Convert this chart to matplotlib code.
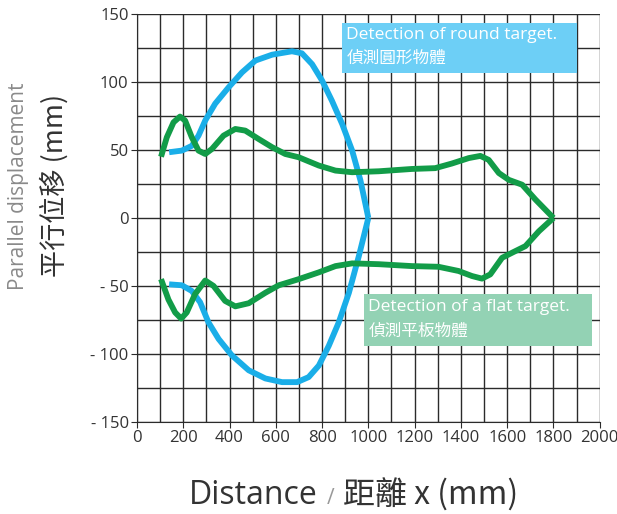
import matplotlib.pyplot as plt
from matplotlib.patches import Rectangle

plt.rcParams['font.family'] = ['Open Sans', 'Noto Sans CJK TC', 'DejaVu Sans']

# round target (blue), upper and lower halves
round_x_up = [139, 194, 237, 266, 295, 338, 396, 454, 512, 584, 670, 713, 757, 800,
              843, 887, 930, 966, 1000]
round_y_up = [48.3, 49.5, 53, 60.5, 71.6, 84, 96, 107, 115.7, 120, 122.5, 121, 113, 101,
              86, 69, 49.5, 27.5, 0]
round_x_lo = [1000, 959, 916, 872, 829, 786, 742, 692, 627, 555, 483, 410, 353, 309,
              273, 237, 194, 139]
round_y_lo = [0, -28, -55, -76.8, -94, -108.5, -117, -120.7, -120.7, -118, -112, -101, -89,
              -76.8, -62, -53.7, -49.5, -48.8]

# flat target (green), upper and lower halves
flat_x_up = [104, 129, 158, 186, 208, 237, 266, 295, 324, 374, 425, 468, 526, 584, 641,
             699, 786, 858, 930, 1045, 1188, 1289, 1361, 1434, 1484, 1520, 1564, 1607,
             1665, 1723, 1800]
flat_y_up = [45, 59.3, 70.3, 74.5, 71.6, 59.3, 49.5, 47, 50.7, 60.5, 65.4, 64.2, 58, 52, 47,
             44.6, 38.5, 34.8, 33.6, 34.3, 36, 36.6, 40, 44, 45.6, 42.7, 33, 28,
             24.4, 13.4, 0]
flat_x_lo = [104, 136, 165, 191, 215, 251, 295, 331, 381, 425, 483, 555, 613, 699, 786,
             858, 930, 1045, 1188, 1303, 1390, 1448, 1491, 1527, 1578, 1621, 1679, 1737,
             1800]
flat_y_lo = [-45, -60, -69.5, -74, -69.5, -56, -46, -50, -61, -65, -62.7, -55, -49.5, -45, -40,
             -35.4, -33.4, -34, -35.4, -35.9, -39, -42.7, -44.6, -41.5, -29.3, -25.6, -20.7, -9.8,
             0]

xticks = list(range(0, 2001, 200))
yticks = [-150, -100, -50, 0, 50, 100, 150]
ytick_labels = ['- 150', '- 100', '- 50', '0', '50', '100', '150']

blue = '#1aaee8'
green = '#129c48'

fig = plt.figure(figsize=(6.17, 5.14), dpi=100)
ax = fig.add_axes([0.222, 0.179, 0.750, 0.794])

ax.set_xlim(0, 2000)
ax.set_ylim(-150, 150)
for x in range(0, 2001, 100):
    ax.axvline(x, color='#2b2b2b', lw=1.0, zorder=1)
for y in range(-150, 151, 25):
    ax.axhline(y, color='#2b2b2b', lw=1.0, zorder=1)

for s in ['top', 'right']:
    ax.spines[s].set_visible(False)
ax.spines['left'].set_color('#2b2b2b')
ax.spines['bottom'].set_color('#2b2b2b')

ax.set_xticks(xticks)
ax.set_yticks(yticks)
ax.set_yticklabels(ytick_labels)
ax.tick_params(direction='out', length=4, color='#2b2b2b', labelcolor='#333333', pad=2)
for lab in ax.get_xticklabels() + ax.get_yticklabels():
    lab.set_fontfamily(['Liberation Sans Narrow', 'Open Sans'])
    lab.set_fontsize(12)

lw = 4.2
style = dict(lw=lw, solid_capstyle='butt', solid_joinstyle='round')
ax.plot(round_x_up, round_y_up, color=blue, zorder=3, **style)
ax.plot(round_x_lo, round_y_lo, color=blue, zorder=3, **style)
ax.plot(flat_x_up, flat_y_up, color=green, zorder=4, **style)
ax.plot(flat_x_lo, flat_y_lo, color=green, zorder=4, **style)

# label boxes
ax.add_patch(Rectangle((884, 106.6), 1016, 36.4, color='#6dcff6', zorder=5, lw=0))
ax.text(905, 134.5, 'Detection of round target.', color='white', fontsize=12.5,
        va='center', zorder=6)
ax.text(905, 117, '偵測圓形物體', color='white', fontsize=12, va='center', zorder=6,
        family=['Noto Sans CJK TC'], weight='medium')
ax.add_patch(Rectangle((980, -94), 988, 38, color='#93d2b4', zorder=5, lw=0))
ax.text(1000, -65.5, 'Detection of a flat target.', color='white', fontsize=12.5,
        va='center', zorder=6)
ax.text(1000, -83, '偵測平板物體', color='white', fontsize=12, va='center', zorder=6,
        family=['Noto Sans CJK TC'], weight='medium')

# y label (two lines)
fig.text(19 / 617, 1 - 186 / 514, 'Parallel displacement', rotation=90, color='#8a8a8a',
         fontsize=15, ha='center', va='center')
fig.text(54 / 617, 1 - 185 / 514, '平行位移 (mm)', rotation=90, color='#333333',
         fontsize=19.5, ha='center', va='center', family=['Noto Sans CJK TC', 'Open Sans'])

# x label
fig.text(318 / 617, 1 - 495 / 514, 'Distance', color='#333333', fontsize=23,
         ha='right', va='center')
fig.text(331 / 617, 1 - 498 / 514, '/', color='#999999', fontsize=15,
         ha='center', va='center')
fig.text(343 / 617, 1 - 495 / 514, '距離 x (mm)', color='#333333', fontsize=23,
         ha='left', va='center', family=['Noto Sans CJK TC', 'Open Sans'])

fig.savefig('out.png', dpi=100)
